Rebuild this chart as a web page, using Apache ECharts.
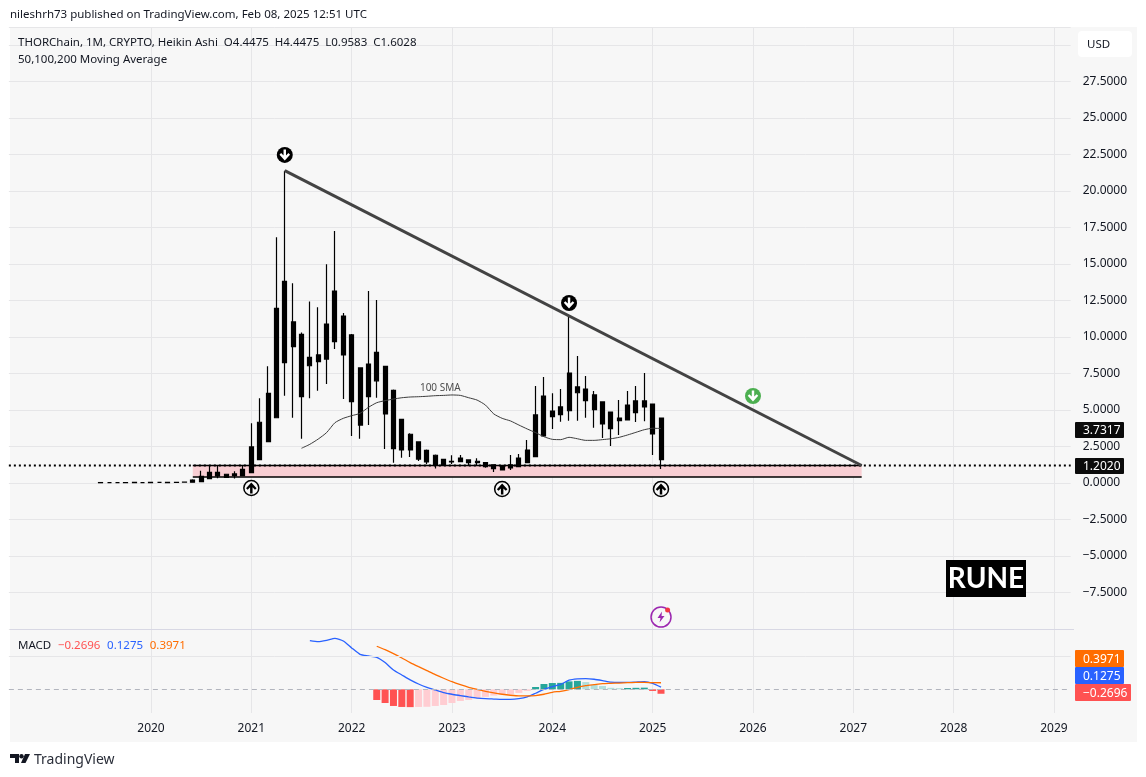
<!DOCTYPE html>
<html>
<head>
<meta charset="utf-8">
<title>RUNE</title>
<style>
    html, body { margin: 0; padding: 0; background: #fff; }
    #myChart { width: 1146px; height: 777px; }
</style>
<script src="https://cdn.jsdelivr.net/npm/echarts@6/dist/echarts.min.js"></script>
</head>
<body>
<div id="myChart"></div>
<script>
    /////////////////////////
    // data

    var firstYear = 2018, firstMonth = 8;   // axis starts Aug 2018
    var monthCount = 128;                   // ends Mar 2029
    var firstYearLabel = 2020;

    var titleLine = 'nileshrh73 published on TradingView.com, Feb 08, 2025 12:51 UTC';
    var legendLine = 'THORChain, 1M, CRYPTO, Heikin Ashi  O4.4475  H4.4475  L0.9583  C1.6028';
    var legendLine2 = '50,100,200 Moving Average';

    var priceTicksMin = -10, priceTicksMax = 31.233;
    var lastPrice = '3.7317';
    var supportPrice = 1.2020;
    var macdTag = '0.1275', signalTag = '0.3971', histTag = '-0.2696';

    // heikin ashi candles [open, close, low, high], one per month
    var candleStart = '2019-07';
    var candles = [
        [0.03,0.02,0.02,0.03],[0.03,0.03,0.02,0.04],[0.02,0.02,0.01,0.03],[0.03,0.02,0.02,0.04],
        [0.04,0.03,0.02,0.05],[0.03,0.03,0.02,0.04],[0.04,0.03,0.03,0.05],[0.04,0.04,0.03,0.05],
        [0.03,0.04,0.02,0.05],[0.05,0.04,0.03,0.06],[0.07,0.06,0.05,0.08],
        [0.05,0.2,0.05,0.25],[0.09,0.46,0.09,0.84],[0.3,0.73,0.28,1.23],[0.48,0.73,0.32,1.16],
        [0.6,0.39,0.36,0.62],[0.5,0.62,0.3,0.8],[0.5,0.94,0.48,1.2],[0.71,2.47,0.71,4.09],
        [1.6,4.16,1.6,5.8],[2.83,6.14,2.83,8.0],[4.47,11.96,4.47,16.83],[8.24,13.81,5.98,21.39],
        [11.03,9.34,4.47,13.68],[10.18,5.91,3.03,10.3],[8.6,8.03,5.8,12.44],[8.31,8.77,6.32,12.03],
        [8.49,10.89,6.78,14.98],[9.68,13.15,9.18,17.26],[11.44,8.77,5.75,11.64],[10.14,5.57,3.22,10.2],
        [7.88,3.97,3.03,7.9],[8.15,5.91,3.97,13.15],[8.95,7.0,5.84,12.53],[7.99,4.73,2.33,8.0],
        [6.35,2.35,1.39,6.4],[4.36,2.26,1.73,4.4],[3.34,2.26,1.78,3.4],[2.81,1.64,1.5,2.85],
        [2.24,1.44,1.28,2.3],[1.9,1.23,1.0,1.95],[1.62,1.23,1.2,1.65],[1.49,1.45,1.3,1.9],
        [1.46,1.71,1.44,1.92],[1.58,1.39,1.16,1.62],[1.49,1.39,1.16,1.7],[1.39,1.12,1.05,1.42],
        [1.25,0.98,0.75,1.28],[1.14,0.89,0.85,1.16],[1.03,1.25,0.89,1.92],[1.12,1.71,1.1,1.99],
        [1.39,2.26,1.37,2.95],[1.8,4.66,1.8,6.64],[3.22,5.96,3.2,7.26],[4.93,4.54,3.7,6.14],
        [4.68,5.21,4.2,6.44],[4.95,7.53,4.27,11.39],[6.58,6.18,4.27,8.7],[6.44,5.64,4.47,7.33],
        [6.03,5.02,3.79,6.3],[5.55,4.04,3.08,5.6],[4.86,3.72,2.53,4.9],[4.27,4.45,3.29,5.68],
        [4.32,5.34,4.3,6.3],[4.82,5.62,4.18,6.64],[5.62,5.21,4.23,7.53],[5.41,3.36,1.92,5.45],
        [4.4475,1.6028,0.9583,4.4475]
    ];

    // 100 SMA
    var smaStart = '2021-07';
    var smaValues = [
        2.38,2.65,3.01,3.45,4.13,4.43,4.61,4.77,5.18,5.5,5.64,5.75,5.84,5.89,5.91,5.94,5.98,6.0,
        6.03,6.0,5.84,5.68,5.34,4.73,4.43,4.25,3.97,3.7,3.45,3.17,2.99,2.97,3.13,3.03,2.92,2.92,
        2.97,3.03,3.13,3.29,3.47,3.65,3.75,3.7317
    ];

    // drawn trend line and support zone
    var trendLine = [['2021-05', 21.39], ['2027-02', 1.2]];
    var zoneStart = '2020-06', zoneEnd = '2027-02';
    var zoneTop = 1.2, zoneBottom = 0.41;

    // arrow notes
    var downNotes = [['2021-05', 22.47], ['2024-03', 12.33]];
    var upNotes = [['2021-01', -0.34], ['2023-07', -0.41], ['2025-02', -0.41]];
    var greenNotes = [['2026-01', 5.96]];
    var flashNote = [['2025-02', -9.18]];
    var smaNote = [['2022-11', 6.52]];

    // MACD pane
    var macdStart = '2021-08';
    var macdValues = [
        2.95,2.89,2.97,3.09,2.93,2.51,2.12,2.02,1.94,1.62,1.17,0.87,0.57,0.32,0.12,-0.04,-0.2,-0.3,
        -0.38,-0.46,-0.53,-0.57,-0.59,-0.61,-0.61,-0.57,-0.46,-0.24,0,0.16,0.30,0.55,0.63,0.65,0.61,
        0.53,0.44,0.42,0.42,0.44,0.46,0.36,0.1275
    ];
    var signalStart = '2022-04';
    var signalValues = [
        2.61,2.40,2.16,1.9,1.62,1.37,1.13,0.89,0.67,0.46,0.28,0.12,0,-0.12,-0.22,-0.30,-0.36,-0.40,
        -0.40,-0.38,-0.30,-0.18,-0.12,-0.02,0.12,0.22,0.28,0.34,0.36,0.38,0.40,0.42,0.42,0.40,0.3971
    ];
    var histValues = [
        -0.65,-0.83,-1.01,-1.07,-1.08,-1.07,-1.06,-1.01,-0.95,-0.83,-0.71,-0.65,-0.55,-0.46,-0.38,
        -0.34,-0.30,-0.22,-0.10,0.14,0.32,0.38,0.39,0.48,0.51,0.44,0.26,0.2,0.09,0.07,0.08,0.09,0.10,
        -0.10,-0.2696
    ];

    /////////////////////////

    var arrowPath = 'path://M10 3h4v10l4-4 2.6 2.6L12 21 3.4 11.6 6 9l4 4z';
    var boltPath = 'path://M13 1 L4 14 h6 l-2 9 L18 10 h-6z';
    var uiFont = '"Noto Sans", sans-serif';
    var smallFont = '11.5px ' + uiFont;

    var myChart;

    function makeMonths() {
        var list = [];
        var y = firstYear, m = firstMonth;
        for (var i = 0; i < monthCount; i++) {
            list.push(y + '-' + (m < 10 ? '0' + m : m));
            m++;
            if (m > 12) { m = 1; y++; }
        }
        return list;
    }

    // put a list that starts at some month onto the whole axis
    function padValues(months, start, values, blank) {
        var out = [];
        var at = months.indexOf(start);
        for (var i = 0; i < months.length; i++) {
            var v = values[i - at];
            out.push(i >= at && v !== undefined ? v : blank);
        }
        return out;
    }

    function histColor(values) {
        return values.map(function (v, i) {
            var rising = i > 0 && v > values[i - 1];
            if (v >= 0) {
                return rising ? '#26a69a' : '#b2dfdb';
            }
            return rising ? '#ffcdd2' : '#ff5252';
        });
    }

    function isYearStart(index, value) {
        return value.slice(5) === '01' && Number(value.slice(0, 4)) >= firstYearLabel;
    }

    function makeXAxis(gridIndex, months, withLabel) {
        return {
            type: 'category',
            gridIndex: gridIndex,
            data: months,
            boundaryGap: false,
            axisLine: { show: false },
            axisTick: { show: false },
            axisLabel: {
                show: withLabel,
                interval: isYearStart,
                margin: 10,
                color: '#131722',
                fontFamily: uiFont,
                fontSize: 12,
                formatter: function (value) { return value.slice(0, 4); }
            },
            splitLine: {
                show: true,
                interval: isYearStart,
                lineStyle: { color: '#e6e6e8', width: 1 }
            }
        };
    }

    function noteSeries(data, symbol, size, rotate, style, offset) {
        style.opacity = 1;
        return {
            type: 'scatter',
            data: data,
            symbol: symbol,
            symbolSize: size,
            symbolRotate: rotate,
            symbolOffset: offset || [0, 0],
            symbolKeepAspect: true,
            itemStyle: style,
            silent: true,
            z: 6
        };
    }

    function tag(x, y, w, h, fill, value, align) {
        return {
            type: 'group',
            z: 20,
            children: [
                { type: 'rect', shape: { x: x, y: y, width: w, height: h, r: 1 }, style: { fill: fill }, z: 20 },
                { type: 'text', x: x + 8, y: y + h / 2 + 1, z: 21,
                  style: { text: value, fill: '#fff', font: '12px ' + uiFont, verticalAlign: 'middle' } }
            ]
        };
    }

    function headerText(x, y, value, font, color) {
        return { type: 'text', x: x, y: y, z: 20,
                 style: { text: value, fill: color || '#131722', font: font || smallFont, verticalAlign: 'middle' } };
    }

    function makeGraphics() {
        var els = [];
        // chart frame
        els.push({ type: 'rect', z: -10, shape: { x: 10, y: 27, width: 1127, height: 715 }, style: { fill: '#f7f7f7' } });
        // pane separator
        els.push({ type: 'line', z: 2, shape: { x1: 10, y1: 629.5, x2: 1074, y2: 629.5 }, style: { stroke: '#d8d8e4', lineWidth: 1 } });

        els.push(headerText(10, 15, titleLine));
        els.push(headerText(18, 43, legendLine));
        els.push(headerText(18, 60, legendLine2));

        // USD button
        els.push({ type: 'rect', z: 20, shape: { x: 1078, y: 31, width: 54, height: 26, r: 4 }, style: { fill: '#fff' } });
        els.push(headerText(1087, 45, 'USD'));

        // price tags
        els.push(tag(1075, 422, 49, 16, '#0b0b0b', lastPrice));
        els.push(tag(1075, 458, 49, 16, '#0b0b0b', supportPrice.toFixed(4)));
        els.push(tag(1075, 650, 49, 17, '#ff6d00', signalTag));
        els.push(tag(1075, 667, 49, 17, '#2962ff', macdTag));
        els.push(tag(1075, 684, 56, 17, '#ff5252', histTag.replace('-', '\u2212')));

        // MACD legend
        els.push({
            type: 'text', x: 18, y: 646, z: 20,
            style: {
                rich: {
                    n: { fill: '#131722', font: smallFont },
                    a: { fill: '#ff5252', font: smallFont },
                    b: { fill: '#2962ff', font: smallFont },
                    c: { fill: '#ff6d00', font: smallFont }
                },
                text: '{n|MACD}  {a|' + histTag.replace('-', '\u2212') + '}  {b|' + macdTag + '}  {c|' + signalTag + '}',
                verticalAlign: 'middle'
            }
        });

        // RUNE stamp
        els.push({ type: 'rect', z: 20, shape: { x: 946, y: 560, width: 80, height: 37 }, style: { fill: '#000' } });
        els.push({ type: 'text', x: 986, y: 579, z: 21,
                   style: { text: 'RUNE', fill: '#fff', font: 'bold 28px Lato, sans-serif', align: 'center', verticalAlign: 'middle' } });

        // footer logo and name
        els.push({ type: 'polygon', z: 20, shape: { points: [[10, 754], [19, 754], [19, 763], [15, 763], [15, 758], [10, 758]] }, style: { fill: '#131722' } });
        els.push({ type: 'circle', z: 20, shape: { cx: 21.5, cy: 756.2, r: 2.2 }, style: { fill: '#131722' } });
        els.push({ type: 'polygon', z: 20, shape: { points: [[25, 754], [30, 754], [25.5, 763], [21, 763]] }, style: { fill: '#131722' } });
        els.push(headerText(34, 760, 'TradingView', '14px ' + uiFont, '#2a2e39'));
        return els;
    }

    function getMyChart() {
        if (myChart != undefined) {
            return myChart;
        }
        myChart = echarts.init(document.getElementById('myChart'), null, { renderer: 'canvas' });
        return myChart;
    }

    function initChartOptions() {
        var months = makeMonths();
        var gridLeft = 8.86;
        var gridRight = 1146 - 1070.7;
        var histColors = histColor(histValues);

        var option = {
            animation: false,
            backgroundColor: '#fff',
            textStyle: { fontFamily: uiFont },
            graphic: { elements: makeGraphics() },
            grid: [
                { left: gridLeft, right: gridRight, top: 27, height: 602 },
                { left: gridLeft, right: gridRight, top: 630, height: 83 }
            ],
            xAxis: [makeXAxis(0, months, false), makeXAxis(1, months, true)],
            yAxis: [
                {
                    type: 'value',
                    gridIndex: 0,
                    position: 'right',
                    min: priceTicksMin,
                    max: priceTicksMax,
                    interval: 2.5,
                    axisLine: { show: false },
                    axisTick: { show: false },
                    axisLabel: {
                        margin: 12,
                        padding: [4, 0, 0, 0],
                        color: '#131722',
                        fontFamily: uiFont,
                        fontSize: 12,
                        showMinLabel: false,
                        showMaxLabel: false,
                        formatter: function (v) {
                            if (v >= 30 || v <= -10) {
                                return '';
                            }
                            return v.toFixed(4).replace('-', '\u2212');
                        }
                    },
                    splitLine: { lineStyle: { color: '#e6e6e8', width: 1 } }
                },
                {
                    type: 'value',
                    gridIndex: 1,
                    position: 'right',
                    min: -1.436,
                    max: 3.594,
                    axisLine: { show: false },
                    axisTick: { show: false },
                    axisLabel: { show: false },
                    splitLine: { show: false }
                }
            ],
            series: [
                {
                    name: 'RUNE',
                    type: 'candlestick',
                    xAxisIndex: 0,
                    yAxisIndex: 0,
                    data: padValues(months, candleStart, candles, ['-', '-', '-', '-']),
                    barWidth: 4.5,
                    itemStyle: {
                        color: '#000',
                        color0: '#000',
                        borderColor: '#000',
                        borderColor0: '#000',
                        borderWidth: 1.2
                    },
                    z: 4,
                    markArea: {
                        silent: true,
                        z: 1,
                        itemStyle: { color: '#f8ced3', opacity: 1 },
                        data: [[
                            { xAxis: zoneStart, yAxis: zoneTop },
                            { xAxis: zoneEnd, yAxis: zoneBottom }
                        ]]
                    }
                },
                {
                    name: 'Zone top',
                    type: 'line',
                    data: [[zoneStart, zoneTop], [zoneEnd, zoneTop]],
                    symbol: 'none',
                    silent: true,
                    lineStyle: { color: '#000', width: 1.3 },
                    z: 3
                },
                {
                    name: 'Zone bottom',
                    type: 'line',
                    data: [[zoneStart, zoneBottom], [zoneEnd, zoneBottom]],
                    symbol: 'none',
                    silent: true,
                    lineStyle: { color: '#000', width: 1.3 },
                    z: 3
                },
                {
                    name: 'Support',
                    type: 'line',
                    data: [[months[0], supportPrice], [months[months.length - 1], supportPrice]],
                    symbol: 'none',
                    silent: true,
                    lineStyle: { color: '#000', width: 2, type: [2, 3] },
                    z: 5
                },
                {
                    name: '100 SMA',
                    type: 'line',
                    data: padValues(months, smaStart, smaValues, '-'),
                    symbol: 'none',
                    smooth: 0.2,
                    lineStyle: { color: '#3c3c3c', width: 1 },
                    z: 5
                },
                {
                    name: 'Trend',
                    type: 'line',
                    data: trendLine,
                    symbol: 'none',
                    lineStyle: { color: '#434343', width: 3 },
                    z: 5
                },
                noteSeries(downNotes, 'circle', 16, 0, { color: '#000' }),
                noteSeries(downNotes, arrowPath, 11, 0, { color: '#fff' }),
                noteSeries(upNotes, 'circle', 15, 0, { color: '#f7f7f7', borderColor: '#000', borderWidth: 1.5 }),
                noteSeries(upNotes, arrowPath, 11, 180, { color: '#000' }),
                noteSeries(greenNotes, 'circle', 16, 0, { color: '#4caf50' }),
                noteSeries(greenNotes, arrowPath, 11, 0, { color: '#fff' }),
                noteSeries(flashNote, 'circle', 20, 0, { color: 'rgba(0,0,0,0)', borderColor: '#9c27b0', borderWidth: 1.5 }),
                noteSeries(flashNote, boltPath, 11, 0, { color: '#9c27b0' }),
                noteSeries(flashNote, 'circle', 5, 0, { color: '#f23645' }, [6.6, -7]),
                {
                    type: 'scatter',
                    data: smaNote,
                    symbol: 'circle',
                    symbolSize: 1,
                    silent: true,
                    itemStyle: { color: 'rgba(0,0,0,0)' },
                    label: {
                        show: true,
                        position: 'inside',
                        offset: [5, 0],
                        formatter: '100 SMA',
                        color: '#222',
                        fontFamily: uiFont,
                        fontSize: 10
                    }
                },
                {
                    name: 'Histogram',
                    type: 'bar',
                    xAxisIndex: 1,
                    yAxisIndex: 1,
                    barWidth: 7,
                    data: padValues(months, signalStart, histValues.map(function (v, i) {
                        return { value: v, itemStyle: { color: histColors[i] } };
                    }), '-'),
                    markLine: {
                        silent: true,
                        symbol: 'none',
                        label: { show: false },
                        data: [
                            { yAxis: 2, lineStyle: { color: '#e6e6e8', width: 1, type: 'solid' } },
                            { yAxis: 0, lineStyle: { color: '#b2b5be', width: 1, type: [5, 4] } }
                        ]
                    }
                },
                {
                    name: 'MACD',
                    type: 'line',
                    xAxisIndex: 1,
                    yAxisIndex: 1,
                    data: padValues(months, macdStart, macdValues, '-'),
                    symbol: 'none',
                    smooth: 0.2,
                    lineStyle: { color: '#2962ff', width: 1.3 }
                },
                {
                    name: 'Signal',
                    type: 'line',
                    xAxisIndex: 1,
                    yAxisIndex: 1,
                    data: padValues(months, signalStart, signalValues, '-'),
                    symbol: 'none',
                    smooth: 0.2,
                    lineStyle: { color: '#ff6d00', width: 1.3 }
                }
            ]
        };
        return option;
    }

    function init() {
        getMyChart().setOption(initChartOptions());
    }

    init();
</script>
</body>
</html>
